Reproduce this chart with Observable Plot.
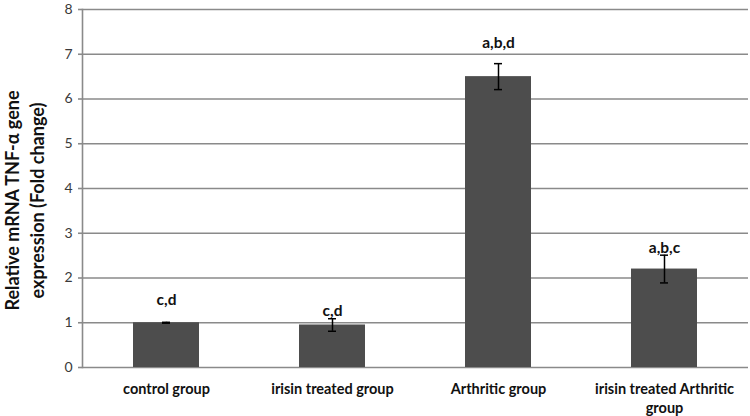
<!DOCTYPE html>
<html>
<head>
<meta charset="utf-8">
<script src="https://cdn.jsdelivr.net/npm/d3@7"></script>
<script src="https://cdn.jsdelivr.net/npm/@observablehq/plot@0.6"></script>
<style>
  html, body { margin: 0; padding: 0; background: #fff; }
  #chart svg { display: block; }
</style>
</head>
<body>
<div id="chart"></div>
<script>
const categories = ["control group", "irisin treated group", "Arthritic group", "irisin treated Arthritic group"];
const axisLabels = ["control group", "irisin treated group", "Arthritic group", "irisin treated Arthritic\ngroup"];
const means = [1.0, 0.95, 6.5, 2.2];
const errors = [0.01, 0.14, 0.29, 0.31];
const letters = ["c,d", "c,d", "a,b,d", "a,b,c"];
const letterLevels = [1.5, 1.26, 7.26, 2.68];
const yTicks = [0, 1, 2, 3, 4, 5, 6, 7, 8];
const yTitle = "Relative mRNA TNF-\u03b1 gene\nexpression (Fold change)";

const data = categories.map((c, i) => ({
  cat: c, mean: means[i], lo: means[i] - errors[i], hi: means[i] + errors[i],
  letter: letters[i], ly: letterLevels[i]
}));
const labelMap = new Map(categories.map((c, i) => [c, axisLabels[i]]));

const font = "Lato, 'Open Sans', sans-serif";

const chart = Plot.plot({
  width: 750,
  height: 416,
  marginTop: 9,
  marginBottom: 49,
  marginLeft: 82,
  marginRight: 2,
  style: { fontFamily: font, background: "#fff" },
  x: { domain: categories, paddingInner: 0.6, paddingOuter: 0.3 },
  y: { domain: [0, 8] },
  marks: [
    Plot.gridY(yTicks, { stroke: "#8a8a8a", strokeOpacity: 1, strokeWidth: 1.6 }),
    Plot.frame({ anchor: "left", stroke: "#8a8a8a", strokeWidth: 1.6 }),
    Plot.axisY({ ticks: yTicks, tickSize: 4, tickPadding: 6, fontSize: 14, fill: "#3a3a3a", stroke: "#8a8a8a", strokeWidth: 1.6, label: null }),
    Plot.barY(data, { x: "cat", y: "mean", fill: "#4d4d4d" }),
    Plot.ruleX(data, { x: "cat", y1: "lo", y2: "hi", stroke: "#000", strokeWidth: 1.5 }),
    Plot.tickY(data, { x: "cat", y: "hi", stroke: "#000", strokeWidth: 1.5, insetLeft: 29, insetRight: 29 }),
    Plot.tickY(data, { x: "cat", y: "lo", stroke: "#000", strokeWidth: 1.5, insetLeft: 29, insetRight: 29 }),
    Plot.text(data, { x: "cat", y: "ly", text: "letter", fontWeight: "bold", fontSize: 15.5, fill: "#111" }),
    Plot.axisX({ tickSize: 0, tickPadding: 13, fontSize: 14.5, fontWeight: "bold", fill: "#111", lineAnchor: "top", lineHeight: 1.32, tickFormat: d => labelMap.get(d), label: null }),
    Plot.text([yTitle], { frameAnchor: "left", textAnchor: "middle", text: d => d, rotate: -90, dx: -59, dy: 12, fontSize: 18, fontWeight: "bold", fill: "#111", lineHeight: 1.4 })
  ]
});
document.getElementById("chart").appendChild(chart);
</script>
</body>
</html>
